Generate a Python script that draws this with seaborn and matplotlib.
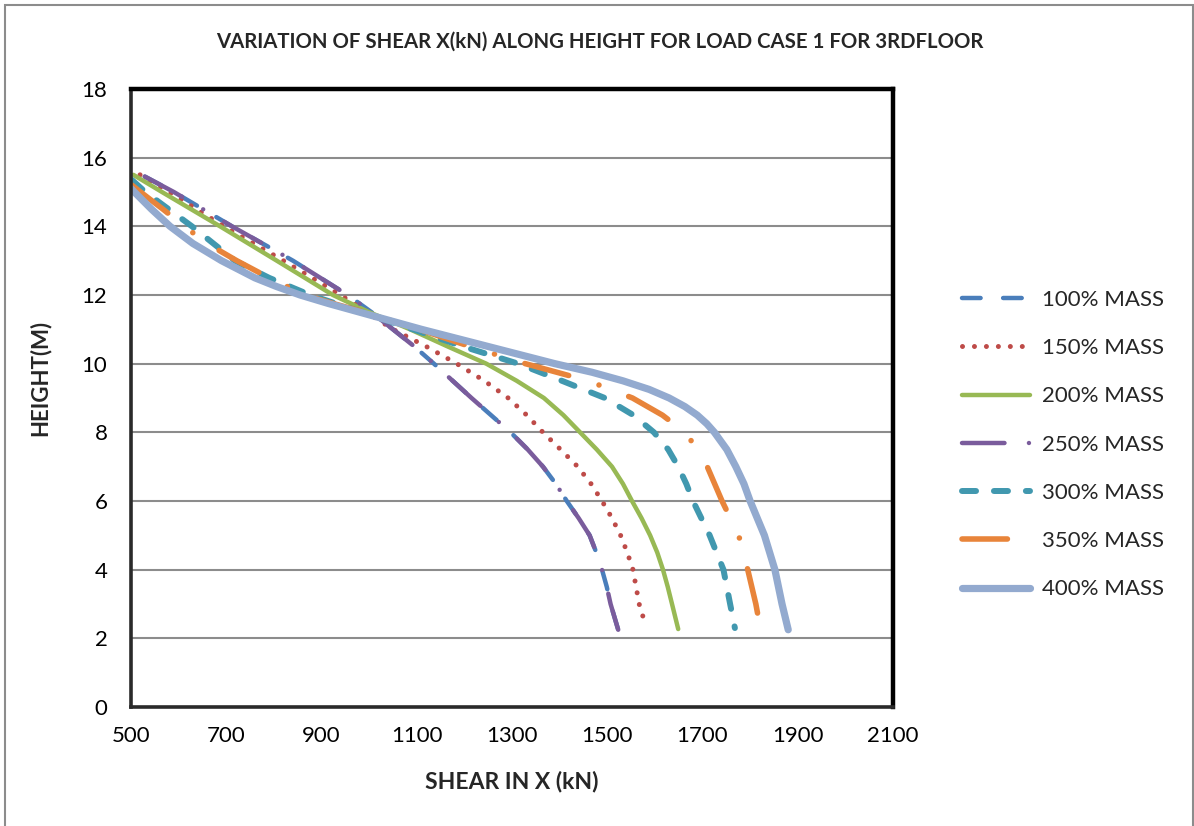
import matplotlib
matplotlib.use("Agg")
import matplotlib.pyplot as plt
import seaborn as sns
import pandas as pd
from matplotlib.patches import Rectangle

# ---------------- data ----------------
labels = ["100% MASS", "150% MASS", "200% MASS", "250% MASS",
          "300% MASS", "350% MASS", "400% MASS"]

height_100 = [15.45, 15.0, 14.0, 13.0, 12.0, 11.5, 11.0, 10.5, 10.0, 9.0, 8.5, 8.0, 7.5, 7.0, 6.5, 6.0, 5.5, 5.0, 4.5, 4.0, 3.5, 3.0, 2.25]
shear_100 = [529, 590, 712, 840, 955, 1005, 1050, 1095, 1136, 1215, 1256, 1297, 1333, 1365, 1392, 1415, 1440, 1463, 1477, 1489, 1499, 1507, 1523]

height_150 = [15.5, 15.0, 14.0, 13.0, 12.0, 11.5, 11.0, 10.5, 10.0, 9.5, 9.0, 8.5, 8.0, 7.5, 7.0, 6.5, 6.0, 5.5, 5.0, 4.5, 4.0, 3.0, 2.45]
shear_150 = [519, 580, 695, 820, 940, 995, 1050, 1120, 1184, 1242, 1292, 1331, 1365, 1402, 1438, 1466, 1489, 1510, 1528, 1542, 1554, 1567, 1579]

height_200 = [15.5, 15.0, 14.0, 13.0, 12.0, 11.5, 11.0, 10.5, 10.0, 9.5, 9.0, 8.5, 8.0, 7.5, 7.0, 6.5, 6.0, 5.5, 5.0, 4.5, 4.0, 3.5, 3.0, 2.27]
shear_200 = [505, 565, 687, 806, 924, 1000, 1086, 1165, 1246, 1310, 1367, 1408, 1443, 1478, 1510, 1533, 1552, 1572, 1590, 1605, 1617, 1627, 1636, 1649]

height_250 = [15.45, 15.0, 14.0, 13.0, 12.0, 11.5, 11.0, 10.5, 10.0, 9.0, 8.5, 8.0, 7.5, 7.0, 6.5, 6.0, 5.5, 5.0, 4.5, 4.0, 3.5, 3.0, 2.25]
shear_250 = [529, 590, 712, 840, 955, 1005, 1050, 1095, 1136, 1215, 1256, 1297, 1333, 1365, 1392, 1415, 1440, 1463, 1477, 1489, 1499, 1507, 1523]

height_300 = [15.35, 15.0, 14.0, 13.0, 12.5, 12.0, 11.5, 11.0, 10.5, 10.0, 9.5, 9.0, 8.5, 8.0, 7.5, 7.0, 6.5, 6.0, 5.0, 4.0, 3.0, 2.3]
shear_300 = [502, 530, 628, 718, 790, 876, 985, 1092, 1197, 1313, 1405, 1495, 1555, 1598, 1628, 1649, 1666, 1680, 1715, 1744, 1758, 1768]

height_350 = [15.2, 15.0, 14.5, 14.0, 13.5, 13.0, 12.5, 12.0, 11.75, 11.5, 11.0, 10.5, 10.0, 9.5, 9.0, 8.5, 8.0, 7.5, 7.0, 6.0, 5.0, 4.0, 3.0, 2.25]
shear_350 = [502, 520, 567, 612, 660, 722, 790, 865, 925, 990, 1105, 1212, 1328, 1460, 1553, 1616, 1663, 1690, 1710, 1741, 1776, 1795, 1812, 1822]

height_400 = [15.1, 15.0, 14.5, 14.0, 13.5, 13.0, 12.5, 12.25, 12.0, 11.75, 11.5, 11.0, 10.5, 10.0, 9.75, 9.5, 9.25, 9.0, 8.75, 8.5, 8.25, 8.0, 7.5, 7.0, 6.5, 6.0, 5.5, 5.0, 4.0, 3.0, 2.25]
shear_400 = [500, 507, 543, 582, 630, 690, 760, 805, 855, 915, 980, 1110, 1250, 1390, 1468, 1533, 1588, 1630, 1663, 1689, 1709, 1725, 1751, 1770, 1787, 1800, 1815, 1830, 1852, 1867, 1880]

x_ticks = [500, 700, 900, 1100, 1300, 1500, 1700, 1900, 2100]
y_ticks = [0, 2, 4, 6, 8, 10, 12, 14, 16, 18]

title = "VARIATION OF SHEAR X(kN) ALONG HEIGHT FOR LOAD CASE 1 FOR 3RDFLOOR"
xlabel = "SHEAR IN X (kN)"
ylabel = "HEIGHT(M)"

# ---------------- styling ----------------
sns.set_theme(style="white")
plt.rcParams["font.family"] = ["Lato", "DejaVu Sans"]
plt.rcParams["lines.scale_dashes"] = False

colors = ["#4A7EBB", "#BE4B48", "#98B954", "#7A5C9C", "#4198AF", "#E8843A", "#93AACF"]
widths = [3.2, 3.6, 3.2, 3.2, 4.3, 4.0, 5.2]
styles = [
    (0, (13.4, 16.2)),
    (0, (0.01, 8.6)),
    "-",
    (0, (30.6, 17.6, 0.01, 17.6)),
    (0, (10.1, 12.9)),
    (0, (32.7, 22.9, 0.01, 22.9)),
    "-",
]

series = [
    (height_100, shear_100), (height_150, shear_150), (height_200, shear_200),
    (height_250, shear_250), (height_300, shear_300), (height_350, shear_350),
    (height_400, shear_400),
]

W, H = 1194, 826
fig = plt.figure(figsize=(W / 100, H / 100), dpi=100)
ax = fig.add_axes([131 / W, 1 - 707 / H, (893 - 131) / W, (707 - 89) / H])

for (h, s), lab, c, lw, ls in zip(series, labels, colors, widths, styles):
    df = pd.DataFrame({"shear": s, "height": h})
    sns.lineplot(data=df, x="shear", y="height", sort=False, estimator=None,
                 ax=ax, color=c, linewidth=lw, linestyle=ls, label=lab,
                 dash_capstyle="round", solid_capstyle="round",
                 solid_joinstyle="round", legend=False)

ax.set_xlim(500, 2100)
ax.set_ylim(0, 18)
ax.set_xticks(x_ticks)
ax.set_yticks(y_ticks)
ax.tick_params(axis="both", length=0, labelsize=16, colors="black")
ax.tick_params(axis="x", pad=14)
ax.tick_params(axis="y", pad=17)
ax.yaxis.grid(True, color="#8C8C8C", linewidth=1.5)
ax.xaxis.grid(False)
ax.set_axisbelow(True)
ax.set_xlabel("")
ax.set_ylabel("")
for side in ["top", "right"]:
    ax.spines[side].set_color("black")
    ax.spines[side].set_linewidth(3.2)
for side in ["left", "bottom"]:
    ax.spines[side].set_color("#2a2a2a")
    ax.spines[side].set_linewidth(2.6)

fig.text(600 / W, 1 - 42 / H, title, ha="center", va="center",
         fontsize=14.7, fontweight="bold")
fig.text(512 / W, 1 - 781 / H, xlabel, ha="center", va="center",
         fontsize=16.5, fontweight="bold")
fig.text(40 / W, 1 - 378 / H, ylabel, ha="center", va="center",
         fontsize=16, fontweight="bold", rotation=90)

handles, labs = ax.get_legend_handles_labels()
fig.legend(handles, labs, loc="upper left",
           bbox_to_anchor=(962 / W, 1 - 290 / H), frameon=False,
           fontsize=16, handlelength=3.05, handletextpad=0.55,
           labelspacing=1.27, borderpad=0, borderaxespad=0)

fig.patches.append(Rectangle((5 / W, -0.02), 1188 / W, 1.02 - 5 / H,
                             transform=fig.transFigure, fill=False,
                             edgecolor="#8C8C8C", linewidth=1.5))

fig.savefig("out.png", dpi=100)
